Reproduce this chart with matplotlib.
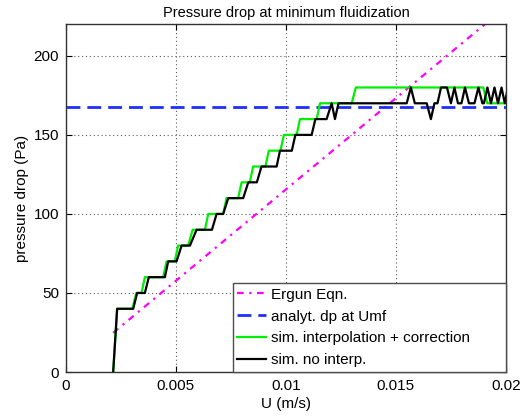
import matplotlib
matplotlib.use("Agg")
import matplotlib.pyplot as plt

plt.rcParams['font.family'] = ['Liberation Sans', 'DejaVu Sans']

# Ergun equation (straight line)
ergun_u = [0.00215, 0.0205]
ergun_dp = [24.8, 236.8]

# analytical dp at Umf
dp_umf = 167.5

# simulation with interpolation + correction
green_u = [0.00215, 0.00233, 0.00302, 0.00320, 0.00344, 0.00359, 0.00442, 0.00458,
           0.00495, 0.00510, 0.00556, 0.00576, 0.00632, 0.00647, 0.00715, 0.00730,
           0.00783, 0.00799, 0.00836, 0.00851, 0.00907, 0.00922, 0.00975, 0.00991,
           0.01049, 0.01064, 0.01140, 0.01155, 0.01299, 0.01318, 0.01897, 0.01915,
           0.02005]
green_dp = [0, 40, 40, 50, 50, 60, 60, 70,
            70, 80, 80, 90, 90, 100, 100, 110,
            110, 120, 120, 130, 130, 140, 140, 150,
            150, 160, 160, 170, 170, 180, 180, 170,
            170]

# simulation without interpolation
black_u = [0.00215, 0.00233, 0.00306, 0.00324, 0.00359, 0.00377, 0.00450, 0.00465,
           0.00503, 0.00526, 0.00564, 0.00594, 0.00664, 0.00685, 0.00715, 0.00738,
           0.00806, 0.00829, 0.00868, 0.00889, 0.00958, 0.00973, 0.01027, 0.01043,
           0.01117, 0.01134, 0.01185, 0.01208, 0.01223, 0.01239, 0.01549, 0.01568,
           0.01586, 0.01640, 0.01659, 0.01675, 0.01689, 0.01705, 0.01732, 0.01750,
           0.01766, 0.01782, 0.01798, 0.01814, 0.01832, 0.01857, 0.01875, 0.01893,
           0.01900, 0.01916, 0.01932, 0.01948, 0.01964, 0.01980, 0.01995, 0.02009]
black_dp = [0, 40, 40, 50, 50, 60, 60, 70,
            70, 80, 80, 90, 90, 100, 100, 110,
            110, 120, 120, 130, 130, 140, 140, 150,
            150, 160, 160, 170, 160, 170, 170, 180,
            170, 170, 160, 170, 170, 180, 180, 170,
            180, 170, 170, 180, 170, 170, 180, 170,
            170, 180, 170, 180, 170, 180, 170, 180]

x_ticks = [0, 0.005, 0.01, 0.015, 0.02]
x_ticklabels = ['0', '0.005', '0.01', '0.015', '0.02']
y_ticks = [0, 50, 100, 150, 200]

fig = plt.figure(figsize=(5.27, 4.18), dpi=100)
ax = fig.add_axes([0.125, 0.110, 0.835, 0.832])

ax.plot(ergun_u, ergun_dp, color='#ff00ff', linestyle=(0, (3, 2.5, 1, 2.5)),
        linewidth=1.6, label='Ergun Eqn.')
ax.axhline(dp_umf, color='#1f2fff', linestyle=(0, (5, 2.5)), linewidth=2.0,
           label='analyt. dp at Umf')
ax.plot(green_u, green_dp, color='#00ee00', linewidth=1.6,
        label='sim. interpolation + correction')
ax.plot(black_u, black_dp, color='black', linewidth=1.6, label='sim. no interp.')

ax.set_xlim(0, 0.02)
ax.set_ylim(0, 220)
ax.set_xticks(x_ticks)
ax.set_xticklabels(x_ticklabels)
ax.set_yticks(y_ticks)
ax.tick_params(direction='in', top=True, right=True, length=4, labelsize=11,
               width=0.8, pad=5)
ax.grid(True, linestyle=(0, (1, 2.5)), color='0.35', linewidth=0.8)
for s in ax.spines.values():
    s.set_linewidth(1.0)
    s.set_color('0.2')

ax.set_title('Pressure drop at minimum fluidization', fontsize=10.5, pad=5)
ax.set_xlabel('U (m/s)', fontsize=11, labelpad=3)
ax.set_ylabel('pressure drop (Pa)', fontsize=11, labelpad=3)

leg = ax.legend(loc='lower left', bbox_to_anchor=(0.3795, 0.0, 0.6205, 0.26),
                mode='expand', borderaxespad=0, fontsize=11, fancybox=False,
                framealpha=1, edgecolor='0.3', handlelength=1.9, handletextpad=0.3,
                labelspacing=0.52, borderpad=0.3)
leg.get_frame().set_linewidth(1.0)

fig.savefig('out.png', dpi=100)
